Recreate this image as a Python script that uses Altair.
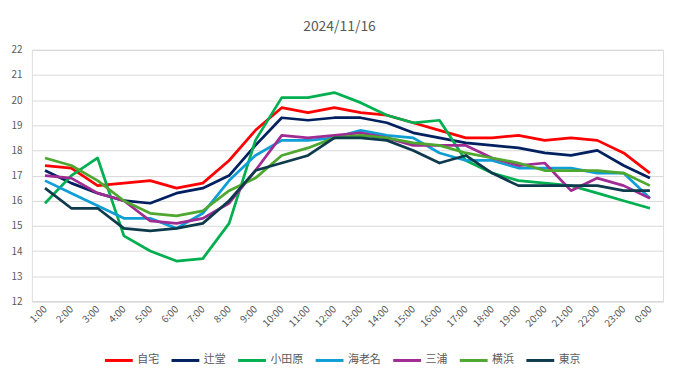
import altair as alt
import pandas as pd

hours = ["1:00", "2:00", "3:00", "4:00", "5:00", "6:00", "7:00", "8:00", "9:00", "10:00",
         "11:00", "12:00", "13:00", "14:00", "15:00", "16:00", "17:00", "18:00", "19:00",
         "20:00", "21:00", "22:00", "23:00", "0:00"]

series_names = ["自宅", "辻堂", "小田原", "海老名", "三浦", "横浜", "東京"]
series_colors = ["#FF0000", "#002060", "#00B050", "#0F9ED5", "#A02B93", "#4EA72E", "#0D3A4C"]

jitaku = [17.4, 17.3, 16.6, 16.7, 16.8, 16.5, 16.7, 17.6, 18.8, 19.7, 19.5, 19.7,
          19.5, 19.4, 19.1, 18.8, 18.5, 18.5, 18.6, 18.4, 18.5, 18.4, 17.9, 17.1]
tsujido = [17.2, 16.7, 16.3, 16.0, 15.9, 16.3, 16.5, 17.0, 18.2, 19.3, 19.2, 19.3,
           19.3, 19.1, 18.7, 18.5, 18.3, 18.2, 18.1, 17.9, 17.8, 18.0, 17.4, 16.9]
odawara = [15.9, 17.0, 17.7, 14.6, 14.0, 13.6, 13.7, 15.1, 18.4, 20.1, 20.1, 20.3,
           19.9, 19.4, 19.1, 19.2, 17.6, 17.1, 16.8, 16.7, 16.6, 16.3, 16.0, 15.7]
ebina = [16.8, 16.3, 15.8, 15.3, 15.3, 14.9, 15.5, 16.8, 17.8, 18.4, 18.4, 18.5,
         18.8, 18.6, 18.5, 17.9, 17.6, 17.6, 17.3, 17.3, 17.3, 17.1, 17.1, 16.1]
miura = [17.0, 16.9, 16.3, 16.0, 15.2, 15.1, 15.3, 15.9, 17.2, 18.6, 18.5, 18.6,
         18.7, 18.5, 18.2, 18.2, 18.2, 17.7, 17.4, 17.5, 16.4, 16.9, 16.6, 16.1]
yokohama = [17.7, 17.4, 16.8, 16.0, 15.5, 15.4, 15.6, 16.4, 16.9, 17.8, 18.1, 18.5,
            18.6, 18.5, 18.3, 18.2, 17.9, 17.7, 17.5, 17.2, 17.2, 17.2, 17.1, 16.6]
tokyo = [16.5, 15.7, 15.7, 14.9, 14.8, 14.9, 15.1, 16.0, 17.2, 17.5, 17.8, 18.5,
         18.5, 18.4, 18.0, 17.5, 17.8, 17.1, 16.6, 16.6, 16.6, 16.6, 16.4, 16.4]

all_values = [jitaku, tsujido, odawara, ebina, miura, yokohama, tokyo]

rows = []
for si, (name, vals) in enumerate(zip(series_names, all_values)):
    for h, v in zip(hours, vals):
        rows.append({"時刻": h, "地点": name, "気温": v, "order": si})
df = pd.DataFrame(rows)

FONT = "Noto Sans CJK JP"
GRAY = "#595959"

chart = alt.Chart(df).mark_line(strokeWidth=2.75, strokeJoin="round").encode(
    x=alt.X("時刻:N", sort=hours, title=None,
            scale=alt.Scale(paddingInner=1, paddingOuter=0.5),
            axis=alt.Axis(labelAngle=-45, labelAlign="right", labelBaseline="middle",
                          labelColor=GRAY, labelFontSize=10, labelFont=FONT,
                          ticks=False, domain=True, domainColor="#D9D9D9",
                          grid=False, labelPadding=6, labelOffset=0)),
    y=alt.Y("気温:Q", title=None,
            scale=alt.Scale(domain=[12, 22], nice=False, zero=False),
            axis=alt.Axis(values=list(range(12, 23)), labelColor=GRAY, labelFontSize=10,
                          labelFont=FONT, ticks=False, domain=False,
                          gridColor="#D9D9D9", gridWidth=1, labelPadding=10)),
    color=alt.Color("地点:N", sort=series_names,
                    scale=alt.Scale(domain=series_names, range=series_colors),
                    legend=alt.Legend(title=None, orient="none", direction="horizontal",
                                      legendX=72, legendY=297, symbolType="stroke",
                                      symbolSize=784, symbolStrokeWidth=3,
                                      labelFont=FONT, labelFontSize=11, labelColor=GRAY,
                                      labelOffset=3, columnPadding=6, padding=0,
                                      gridAlign="none")),
    order=alt.Order("order:Q"),
    detail="地点:N",
).properties(
    width=635,
    height=253,
    title=alt.TitleParams("2024/11/16", font=FONT, fontSize=14, fontWeight="normal",
                          color=GRAY, anchor="middle", dx=-8, offset=11),
    autosize=alt.AutoSizeParams(type="none"),
    padding={"left": 24, "top": 41, "right": 10, "bottom": 68},
).configure_view(stroke=None).configure(background="white")

chart.save("out.html", embed_options={"renderer": "svg", "actions": False})
